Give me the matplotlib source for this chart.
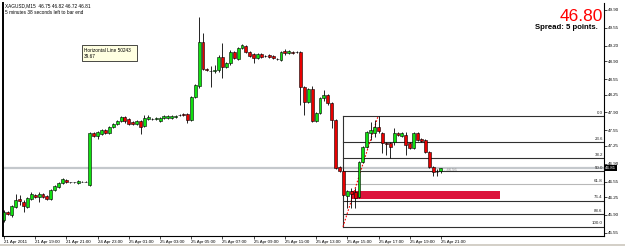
import numpy as np
import matplotlib.pyplot as plt
from matplotlib.patches import Rectangle

plt.rcParams['font.family'] = ['Liberation Sans', 'DejaVu Sans']

# XAGUSD M15 bars, 21 Apr 17:00 -> 25 Apr 21:00
opens = [45.80, 45.96, 45.90, 46.06, 46.21, 46.16, 46.06, 46.21, 46.29, 46.25,
         46.31, 46.27, 46.21, 46.39, 46.45, 46.53, 46.58, 46.54, 46.54, 46.53,
         46.55, 46.55, 46.49, 47.49, 47.44, 47.47, 47.56, 47.49, 47.62, 47.68,
         47.73, 47.81, 47.77, 47.71, 47.68, 47.73, 47.64, 47.77, 47.77, 47.77,
         47.73, 47.79, 47.79, 47.79, 47.81, 47.85, 47.87, 47.87, 47.75, 48.20,
         48.42, 49.27, 48.75, 48.71, 48.71, 48.73, 48.98, 48.79, 48.86, 49.08,
         48.94, 49.16, 49.20, 49.08, 49.04, 48.96, 49.04, 49.00, 49.02, 49.00,
         48.94, 48.92, 49.10, 49.06, 49.08, 49.08, 49.08, 48.40, 48.10, 48.36,
         47.73, 47.89, 48.18, 48.24, 48.09, 47.75, 46.84, 46.76, 46.27, 46.37,
         46.34, 46.25, 46.94, 47.23, 47.49, 47.49, 47.62, 47.49, 47.30, 47.30,
         47.32, 47.49, 47.44, 47.46, 47.30, 47.21, 47.49, 47.38, 47.36, 47.13,
         46.84, 46.74, 46.75]
highs = [46.00, 45.98, 46.10, 46.31, 46.29, 46.19, 46.25, 46.35, 46.31, 46.35,
         46.33, 46.29, 46.41, 46.49, 46.55, 46.62, 46.60, 46.55, 46.55, 46.58,
         46.56, 46.56, 47.51, 47.52, 47.53, 47.58, 47.58, 47.64, 47.70, 47.75,
         47.83, 47.83, 47.79, 47.73, 47.75, 47.75, 47.85, 47.85, 47.79, 47.81,
         47.81, 47.85, 47.85, 47.85, 47.85, 47.87, 47.89, 47.89, 48.22, 48.46,
         49.76, 49.45, 48.77, 48.81, 48.83, 49.02, 49.25, 48.88, 49.12, 49.10,
         49.18, 49.24, 49.22, 49.10, 49.06, 49.06, 49.06, 49.02, 49.04, 49.02,
         48.96, 49.10, 49.14, 49.12, 49.10, 49.10, 49.10, 48.42, 48.38, 48.42,
         47.91, 48.20, 48.34, 48.26, 48.10, 47.77, 46.86, 46.80, 46.39, 46.43,
         46.43, 46.96, 47.25, 47.54, 47.71, 47.75, 47.83, 47.51, 47.32, 47.32,
         47.60, 47.52, 47.51, 47.52, 47.32, 47.52, 47.51, 47.40, 47.38, 47.15,
         46.86, 46.80, 46.82]
lows = [45.76, 45.90, 45.86, 46.04, 46.10, 45.96, 46.04, 46.19, 46.23, 46.16,
        46.23, 46.19, 46.19, 46.37, 46.43, 46.51, 46.53, 46.53, 46.53, 46.51,
        46.54, 46.54, 46.47, 47.42, 47.38, 47.46, 47.47, 47.47, 47.60, 47.66,
        47.71, 47.70, 47.66, 47.66, 47.66, 47.47, 47.62, 47.75, 47.75, 47.75,
        47.71, 47.77, 47.77, 47.77, 47.79, 47.83, 47.83, 47.70, 47.73, 48.18,
        48.38, 48.73, 48.71, 48.40, 48.67, 48.69, 48.57, 48.77, 48.83, 48.94,
        48.92, 49.14, 49.06, 48.98, 48.86, 48.94, 48.96, 48.98, 48.96, 48.94,
        48.92, 48.90, 49.02, 49.04, 49.04, 49.06, 48.05, 47.85, 48.09, 47.71,
        47.71, 47.87, 48.12, 48.05, 47.60, 46.80, 46.74, 46.27, 46.04, 46.04,
        46.04, 46.23, 46.92, 47.21, 47.36, 47.42, 47.49, 47.11, 47.07, 47.02,
        47.27, 47.44, 47.42, 47.07, 47.19, 47.19, 47.34, 47.32, 47.11, 46.82,
        46.66, 46.66, 46.72]
closes = [45.96, 45.92, 46.08, 46.19, 46.17, 46.08, 46.23, 46.31, 46.25, 46.31,
          46.25, 46.21, 46.39, 46.47, 46.53, 46.60, 46.54, 46.54, 46.54, 46.56,
          46.55, 46.55, 47.49, 47.44, 47.52, 47.56, 47.49, 47.62, 47.68, 47.73,
          47.81, 47.73, 47.68, 47.68, 47.73, 47.62, 47.79, 47.81, 47.77, 47.79,
          47.79, 47.83, 47.83, 47.83, 47.83, 47.85, 47.85, 47.75, 48.20, 48.44,
          49.27, 48.75, 48.73, 48.71, 48.73, 48.98, 48.79, 48.86, 49.08, 48.96,
          49.16, 49.22, 49.08, 49.00, 48.96, 49.04, 48.98, 49.00, 48.98, 48.96,
          48.94, 49.08, 49.06, 49.10, 49.06, 49.08, 48.40, 48.10, 48.36, 47.73,
          47.89, 48.18, 48.24, 48.09, 47.75, 46.82, 46.76, 46.29, 46.37, 46.31,
          46.23, 46.94, 47.23, 47.52, 47.56, 47.62, 47.54, 47.30, 47.28, 47.23,
          47.49, 47.46, 47.49, 47.27, 47.21, 47.49, 47.36, 47.34, 47.13, 46.84,
          46.74, 46.74, 46.81]

time_ticks = [0, 8, 16, 24, 32, 40, 48, 56, 64, 72, 80, 88, 96, 104, 112]
time_labels = ['21 Apr 2011', '21 Apr 19:00', '21 Apr 21:00', '24 Apr 23:00',
               '25 Apr 01:00', '25 Apr 03:00', '25 Apr 05:00', '25 Apr 07:00',
               '25 Apr 09:00', '25 Apr 11:00', '25 Apr 13:00', '25 Apr 15:00',
               '25 Apr 17:00', '25 Apr 19:00', '25 Apr 21:00']
price_ticks = [45.55, 45.90, 46.25, 46.55, 46.90, 47.25, 47.55, 47.90,
               48.25, 48.55, 48.90, 49.20, 49.55, 49.90]

fib_high, fib_low = 47.83, 45.67
fib_start, fib_end = 86.9, 95.9
fib_levels = [0.0, 23.6, 38.2, 50.0, 61.8, 76.4, 88.6, 100.0]
zone = (89.0, 127.2, 46.21, 46.37)   # x0, x1, y0, y1
bid = 46.81
last_price = 46.80

W, H = 625, 246
fig = plt.figure(figsize=(W / 100, H / 100), dpi=100)
ax = fig.add_axes([3 / W, 1 - 236 / H, 601 / W, 233 / H])
ax.set_xlim(-0.26, 153.8)
ax.set_ylim(45.49, 50.035)

x = np.arange(len(opens))
o = np.array(opens)
c = np.array(closes)
cols = np.where(c >= o, '#10e010', '#e80000')

# bid line
ax.axhline(bid, color='#c4c8cc', lw=1.6, zorder=1)

# fibonacci
for lv in fib_levels:
    y = fib_high - (fib_high - fib_low) * lv / 100
    col = '#b8b8b8' if lv == 61.8 else '#303030'
    ax.plot([fib_start, 153.8], [y, y], color=col, lw=0.8, zorder=2)
    ax.text(0.998, y + 0.03, f'{lv:.1f}', transform=ax.get_yaxis_transform(),
            ha='right', va='bottom', fontsize=3.2, color='#202020')
ax.plot([fib_start, fib_start], [fib_low, fib_high], color='#303030', lw=0.8, zorder=2)
ax.plot([fib_start, fib_end], [fib_low, fib_high], color='red', lw=0.8,
        ls=(0, (1.5, 1.5)), zorder=3)

# red zone
ax.add_patch(Rectangle((zone[0], zone[2]), zone[1] - zone[0], zone[3] - zone[2],
                       facecolor='#dc143c', edgecolor='none', zorder=2))

# candles
ax.vlines(x, lows, highs, color='black', lw=0.6, zorder=4)
ax.bar(x, c - o, bottom=o, width=0.75, color=cols, edgecolor='black',
       linewidth=0.4, zorder=5)

ax.text(112.8, 46.78, '- 46.56', fontsize=3, color='#909090', va='center')

# axes styling
for s in ['top']:
    ax.spines[s].set_visible(False)
ax.spines['left'].set_linewidth(1.4)
ax.spines['bottom'].set_linewidth(0.8)
ax.spines['right'].set_linewidth(0.8)
ax.yaxis.tick_right()
ax.set_yticks(price_ticks)
ax.set_yticklabels([f'{p:.2f}' for p in price_ticks])
ax.set_xticks(time_ticks)
ax.set_xticklabels(time_labels, ha='left')
ax.tick_params(axis='both', labelsize=3.2, length=2, width=0.5, pad=1)

ax.text(1.002, bid, f'{bid:.2f}', transform=ax.get_yaxis_transform(),
        ha='left', va='center', fontsize=3.2, color='white',
        bbox=dict(facecolor='black', edgecolor='none', boxstyle='square,pad=0.25'))

def fx(px):
    return px / W

def fy(py):
    return 1 - py / H

fig.text(fx(5), fy(7.5), 'XAGUSD,M15  46.75 46.82 46.72 46.81', fontsize=3.4, va='baseline')
fig.text(fx(5), fy(13.5), '5 minutes 38 seconds left to bar end', fontsize=3.4, va='baseline')

fig.patches.append(Rectangle((fx(82), fy(61)), 55 / W, 16 / H, transform=fig.transFigure,
                             facecolor='#ffffe1', edgecolor='black', lw=0.5))
fig.text(fx(84), fy(52), 'Horizontal Line 50243', fontsize=3.4, va='baseline')
fig.text(fx(84), fy(58), '39.67', fontsize=3.4, va='baseline')

fig.text(fx(603), fy(21), f'{last_price:.2f}', fontsize=12.5, color='#ff0000',
         ha='right', va='baseline')
fig.text(fx(598), fy(29), 'Spread: 5 points.', fontsize=5.6, fontweight='bold',
         ha='right', va='baseline')

fig.patches.append(Rectangle((0, 0), 1, 2 / H, transform=fig.transFigure,
                             facecolor='#d4d0c8', edgecolor='none'))

fig.savefig('out.png', dpi=100)
